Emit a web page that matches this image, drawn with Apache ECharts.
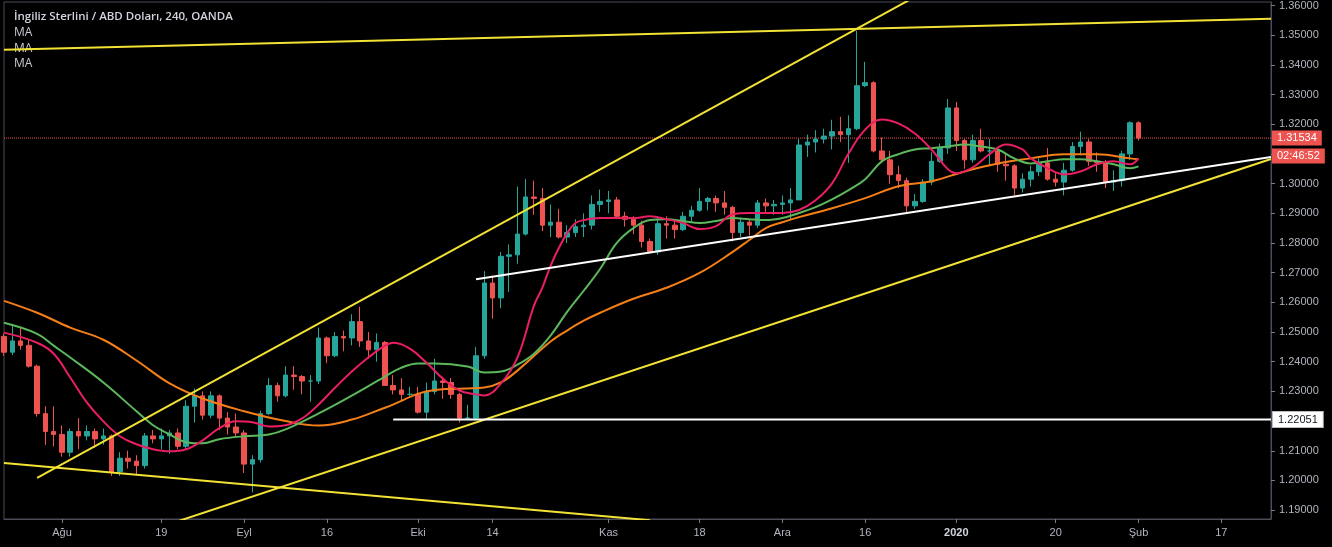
<!DOCTYPE html>
<html><head><meta charset="utf-8">
<script src="https://cdn.jsdelivr.net/npm/echarts@6/dist/echarts.min.js"></script>
<style>html,body{margin:0;padding:0;background:#000;}#c{width:1332px;height:547px;}</style>
</head><body><div id="c"></div>
<script>
// ---- categories: trading days (weekends, Dec 25 and Jan 1 skipped) ----
const categories = [];
const skipDays = ['2019-12-25', '2020-01-01'];
for (let t = Date.UTC(2019, 6, 23); t <= Date.UTC(2020, 1, 25); t += 86400000) {
  const d = new Date(t); const w = d.getUTCDay();
  if (w === 0 || w === 6) continue;
  const s = d.toISOString().slice(0, 10);
  if (skipDays.includes(s)) continue;
  categories.push(s);
}
const tickLabels = {
  '2019-08-01': 'Ağu', '2019-08-19': '19', '2019-09-02': 'Eyl', '2019-09-16': '16',
  '2019-10-01': 'Eki', '2019-10-14': '14', '2019-11-01': 'Kas', '2019-11-18': '18',
  '2019-12-02': 'Ara', '2019-12-16': '16', '2020-01-02': '2020', '2020-01-20': '20',
  '2020-02-03': 'Şub', '2020-02-17': '17'
};
const priceTicks = [1.19,1.20,1.21,1.22,1.23,1.24,1.25,1.26,1.27,1.28,1.29,1.30,1.31,1.32,1.33,1.34,1.35,1.36];

// ---- candles [open, high, low, close] ----
const ohlc = [
[1.2485,1.2495,1.2420,1.2432],[1.2432,1.2520,1.2422,1.2470],[1.2470,1.2515,1.2440,1.2455],[1.2455,1.2475,1.2380,1.2385],
[1.2385,1.2390,1.2215,1.2225],[1.2225,1.2250,1.2120,1.2165],[1.2165,1.2250,1.2115,1.2155],[1.2155,1.2185,1.2080,1.2095],
[1.2095,1.2175,1.2080,1.2165],[1.2165,1.2210,1.2105,1.2150],[1.2150,1.2185,1.2135,1.2165],[1.2165,1.2175,1.2110,1.2140],
[1.2140,1.2175,1.2120,1.2150],[1.2150,1.2155,1.2015,1.2030],[1.2030,1.2095,1.2015,1.2075],[1.2075,1.2100,1.2040,1.2065],
[1.2065,1.2085,1.2020,1.2050],[1.2050,1.2160,1.2040,1.2150],[1.2150,1.2170,1.2125,1.2140],[1.2140,1.2175,1.2105,1.2150],
[1.2150,1.2170,1.2090,1.2160],[1.2160,1.2175,1.2105,1.2115],[1.2115,1.2270,1.2105,1.2250],[1.2250,1.2310,1.2195,1.2285],
[1.2285,1.2300,1.2205,1.2220],[1.2220,1.2300,1.2210,1.2285],[1.2285,1.2290,1.2170,1.2210],[1.2210,1.2230,1.2155,1.2180],
[1.2180,1.2225,1.2145,1.2160],[1.2160,1.2170,1.2025,1.2055],[1.2055,1.2085,1.1960,1.2070],[1.2070,1.2235,1.2060,1.2225],
[1.2225,1.2345,1.2220,1.2320],[1.2320,1.2330,1.2265,1.2285],[1.2285,1.2385,1.2280,1.2355],[1.2355,1.2385,1.2305,1.2350],
[1.2350,1.2355,1.2290,1.2335],[1.2335,1.2355,1.2265,1.2335],[1.2335,1.2515,1.2325,1.2480],[1.2480,1.2485,1.2395,1.2420],
[1.2420,1.2500,1.2415,1.2485],[1.2485,1.2505,1.2435,1.2480],[1.2480,1.2560,1.2455,1.2535],[1.2535,1.2585,1.2450,1.2470],
[1.2470,1.2500,1.2410,1.2440],[1.2440,1.2495,1.2400,1.2465],[1.2465,1.2470,1.2320,1.2320],[1.2320,1.2355,1.2290,1.2305],
[1.2305,1.2345,1.2270,1.2290],[1.2290,1.2315,1.2285,1.2290],[1.2290,1.2315,1.2225,1.2230],[1.2230,1.2330,1.2205,1.2300],
[1.2300,1.2410,1.2290,1.2335],[1.2335,1.2350,1.2275,1.2330],[1.2330,1.2345,1.2275,1.2290],[1.2290,1.2295,1.2195,1.2210],
[1.2210,1.2255,1.2205,1.2210],[1.2210,1.2450,1.2205,1.2420],[1.2420,1.2705,1.2410,1.2665],[1.2665,1.2690,1.2545,1.2615],
[1.2615,1.2770,1.2580,1.2755],[1.2755,1.2795,1.2635,1.2760],[1.2760,1.2990,1.2730,1.2830],[1.2830,1.3015,1.2825,1.2955],
[1.2955,1.3010,1.2895,1.2950],[1.2950,1.2985,1.2840,1.2860],[1.2860,1.2930,1.2820,1.2870],[1.2870,1.2915,1.2815,1.2820],
[1.2820,1.2860,1.2800,1.2835],[1.2835,1.2880,1.2820,1.2855],[1.2855,1.2900,1.2820,1.2860],[1.2860,1.2960,1.2845,1.2930],
[1.2930,1.2980,1.2905,1.2940],[1.2940,1.2975,1.2900,1.2945],[1.2945,1.2955,1.2880,1.2890],[1.2890,1.2905,1.2855,1.2880],
[1.2880,1.2890,1.2830,1.2860],[1.2860,1.2875,1.2785,1.2805],[1.2805,1.2815,1.2765,1.2770],[1.2770,1.2890,1.2760,1.2865],
[1.2865,1.2890,1.2815,1.2860],[1.2860,1.2875,1.2815,1.2845],[1.2845,1.2905,1.2840,1.2890],[1.2890,1.2925,1.2870,1.2910],
[1.2910,1.2985,1.2905,1.2940],[1.2940,1.2955,1.2910,1.2950],[1.2950,1.2960,1.2905,1.2935],[1.2935,1.2975,1.2895,1.2920],
[1.2920,1.2925,1.2805,1.2835],[1.2835,1.2885,1.2820,1.2870],[1.2870,1.2880,1.2825,1.2860],[1.2860,1.2945,1.2850,1.2935],
[1.2935,1.2950,1.2905,1.2925],[1.2925,1.2945,1.2895,1.2930],[1.2930,1.2960,1.2895,1.2935],[1.2935,1.2985,1.2880,1.2945],
[1.2945,1.3150,1.2945,1.3130],[1.3130,1.3165,1.3090,1.3140],[1.3140,1.3180,1.3105,1.3150],[1.3150,1.3185,1.3135,1.3160],
[1.3160,1.3215,1.3115,1.3175],[1.3175,1.3225,1.3140,1.3165],[1.3165,1.3230,1.3070,1.3185],[1.3185,1.3515,1.3180,1.3330],
[1.3330,1.3410,1.3325,1.3340],[1.3340,1.3345,1.3105,1.3110],[1.3110,1.3155,1.3070,1.3080],[1.3080,1.3110,1.3000,1.3030],
[1.3030,1.3060,1.2985,1.3010],[1.3010,1.3020,1.2905,1.2925],[1.2925,1.2965,1.2915,1.2940],[1.2940,1.3015,1.2935,1.3005],
[1.3005,1.3105,1.2995,1.3075],[1.3075,1.3135,1.3070,1.3120],[1.3120,1.3285,1.3100,1.3255],[1.3255,1.3275,1.3110,1.3145],
[1.3145,1.3150,1.3050,1.3080],[1.3080,1.3165,1.3070,1.3145],[1.3145,1.3185,1.3105,1.3110],[1.3110,1.3150,1.3060,1.3110],
[1.3110,1.3120,1.3040,1.3065],[1.3065,1.3100,1.3010,1.3060],[1.3060,1.3065,1.2960,1.2985],[1.2985,1.3035,1.2970,1.3015],
[1.3015,1.3060,1.2990,1.3040],[1.3040,1.3085,1.3025,1.3070],[1.3070,1.3120,1.3010,1.3015],[1.3015,1.3035,1.2990,1.3005],
[1.3005,1.3070,1.2960,1.3045],[1.3045,1.3140,1.3040,1.3125],[1.3125,1.3175,1.3095,1.3140],[1.3140,1.3150,1.3060,1.3075],
[1.3075,1.3105,1.3040,1.3070],[1.3070,1.3080,1.2985,1.3005],[1.3005,1.3045,1.2975,1.3010],[1.3010,1.3110,1.2990,1.3100],
[1.3100,1.3210,1.3080,1.3205],[1.3205,1.3210,1.3145,1.31534]
];
const lastPrice = 1.31534;
const countdown = '02:46:52';
const priceLine = [[0, lastPrice], [153, lastPrice]];

// ---- moving averages: [day index, value] ----
const ma50 = [[0,1.2498],[4,1.2464],[6,1.2427],[8,1.2347],[10,1.2263],[12,1.2199],[14,1.2149],[16,1.2122],[18,1.2105],[20,1.2098],[22,1.2105],[24,1.2135],[26,1.2176],[28,1.2199],[30,1.2196],[32,1.2182],[34,1.2186],[36,1.2209],[38,1.2256],[40,1.2313],[42,1.2367],[44,1.2414],[46,1.2454],[47,1.2464],[49,1.2444],[51,1.2397],[53,1.2343],[55,1.2303],[57,1.2290],[58,1.2286],[60,1.2327],[62,1.2414],[64,1.2589],[65,1.2649],[66,1.2723],[67,1.2783],[68,1.2833],[69,1.2867],[70,1.2877],[72,1.2884],[76,1.2884],[78,1.2890],[80,1.2880],[82,1.2867],[84,1.2847],[86,1.2857],[88,1.2897],[90,1.2901],[94,1.2901],[96,1.2911],[98,1.2944],[100,1.3001],[102,1.3102],[104,1.3182],[106,1.3216],[108,1.3203],[110,1.3169],[112,1.3115],[114,1.3048],[115,1.3035],[117,1.3055],[119,1.3099],[121,1.3132],[123,1.3115],[124,1.3085],[126,1.3052],[128,1.3031],[130,1.3041],[132,1.3065],[134,1.3075],[136,1.3065],[137,1.3085]];
const ma100 = [[0,1.2531],[4,1.2494],[6,1.2454],[8,1.2414],[12,1.2330],[16,1.2233],[18,1.2186],[20,1.2155],[22,1.2129],[24,1.2125],[26,1.2139],[29,1.2149],[32,1.2155],[34,1.2172],[38,1.2226],[42,1.2286],[46,1.2350],[48,1.2380],[50,1.2394],[52,1.2394],[56,1.2384],[58,1.2364],[60,1.2367],[62,1.2390],[64,1.2427],[66,1.2488],[68,1.2568],[70,1.2639],[72,1.2713],[74,1.2800],[76,1.2850],[78,1.2877],[80,1.2880],[82,1.2874],[84,1.2867],[86,1.2874],[88,1.2884],[90,1.2880],[92,1.2877],[94,1.2884],[96,1.2901],[98,1.2921],[100,1.2947],[102,1.2978],[104,1.3015],[106,1.3075],[108,1.3099],[110,1.3115],[112,1.3119],[114,1.3125],[116,1.3132],[118,1.3125],[120,1.3115],[122,1.3085],[124,1.3068],[126,1.3075],[128,1.3082],[130,1.3082],[132,1.3075],[134,1.3065],[136,1.3052],[137,1.3058]];
const ma200 = [[0,1.2605],[4,1.2565],[8,1.2515],[12,1.2474],[16,1.2404],[20,1.2327],[24,1.2276],[29,1.2233],[34,1.2200],[38,1.2185],[42,1.2205],[46,1.2245],[52,1.2305],[58,1.2313],[60,1.2330],[62,1.2370],[66,1.2468],[68,1.2505],[70,1.2538],[72,1.2565],[76,1.2612],[80,1.2649],[84,1.2699],[88,1.2770],[90,1.2810],[92,1.2850],[94,1.2870],[96,1.2887],[100,1.2917],[104,1.2951],[108,1.2991],[112,1.3008],[116,1.3041],[120,1.3068],[124,1.3085],[128,1.3099],[132,1.3099],[136,1.3085],[137,1.3082]];

// ---- drawn trend lines: [day index, price] end points ----
const yellowTop = [[0,1.3451],[153,1.3555]];
const yellowUpper = [[4,1.2009],[110,1.3629]];
const yellowLower = [[21,1.18625],[153,1.30828]];
const yellowDown = [[0,1.20585],[78,1.18659]];
const whiteRising = [[57,1.26774],[153,1.30895]];
const whiteFlat = [[47,1.22051],[153,1.22051]];

const YMIN = 1.18701, YMAX = 1.36117;
const gray = '#b2b5be', axisGray = '#4a4d57';

const chart = echarts.init(document.getElementById('c'), null, {renderer: 'canvas'});
function trend(data, color, extra) {
  return Object.assign({
    type: 'line', data: data, symbol: 'none', silent: true, z: 5, clip: true,
    lineStyle: {color: color, width: 2}, animation: false
  }, extra || {});
}
function ma(data, color) {
  return {type: 'line', data: data, smooth: 0.4, symbol: 'none', silent: true, z: 4,
    lineStyle: {color: color, width: 2}, animation: false};
}
const boxStyle = {backgroundColor: '#ef5350', color: '#ffffff', fontSize: 11, fontFamily: 'Liberation Sans', padding: [1, 5], height: 13, lineHeight: 18};
chart.setOption({
  backgroundColor: '#000000',
  animation: false,
  grid: {left: 4, right: 61, top: 0, bottom: 28, show: true, borderColor: axisGray, borderWidth: 1},
  graphic: [
    {type: 'text', left: 14, top: 11, z: 0, style: {text: 'İngiliz Sterlini / ABD Doları, 240, OANDA', fill: '#d1d4dc', font: '600 11.5px "Open Sans"'}},
    {type: 'text', left: 14, top: 27, z: 0, style: {text: 'MA', fill: '#c8cbd2', font: '12px "Open Sans"'}},
    {type: 'text', left: 14, top: 43, z: 0, style: {text: 'MA', fill: '#c8cbd2', font: '12px "Open Sans"'}},
    {type: 'text', left: 14, top: 58, z: 0, style: {text: 'MA', fill: '#c8cbd2', font: '12px "Open Sans"'}}
  ],
  xAxis: {
    type: 'category', data: categories, boundaryGap: false,
    axisLine: {lineStyle: {color: axisGray}},
    axisTick: {show: true, length: 4, lineStyle: {color: '#787b86'}, interval: (i, v) => tickLabels[v] !== undefined},
    axisLabel: {
      interval: (i, v) => tickLabels[v] !== undefined,
      formatter: v => v === '2020-01-02' ? '{b|2020}' : (tickLabels[v] || ''),
      color: gray, fontSize: 11, fontFamily: 'Liberation Sans', margin: 8,
      rich: {b: {fontWeight: 'bold', color: '#d1d4dc', fontSize: 11, fontFamily: 'Liberation Sans'}}
    },
    splitLine: {show: false}
  },
  yAxis: {
    type: 'value', position: 'right', min: YMIN, max: YMAX,
    axisLine: {show: true, lineStyle: {color: axisGray}},
    axisTick: {show: true, length: 4, customValues: priceTicks, lineStyle: {color: '#787b86'}},
    axisLabel: {customValues: priceTicks, formatter: v => v.toFixed(5), color: gray, fontSize: 11, fontFamily: 'Liberation Sans', margin: 8},
    splitLine: {show: false}
  },
  series: [
    {
      type: 'candlestick', z: 3, barWidth: 5,
      data: ohlc.map(r => [r[0], r[3], r[2], r[1]]),
      itemStyle: {color: '#26a69a', color0: '#ef5350', borderColor: '#26a69a', borderColor0: '#ef5350', borderWidth: 1}
    },
    ma(ma200, '#f57f17'),
    ma(ma100, '#5cb85c'),
    ma(ma50, '#e91e63'),
    {
      type: 'line', data: priceLine, symbol: 'none', silent: true, z: 2, animation: false,
      lineStyle: {color: '#ef5350', type: 'dotted', width: 1},
      endLabel: {
        show: true, distance: 1, offset: [0, 9],
        formatter: '{a|' + lastPrice.toFixed(5) + '}\n{b|' + countdown + '}',
        rich: {a: boxStyle, b: boxStyle}
      }
    },
    trend(yellowTop, '#f2e234'),
    trend(yellowUpper, '#f2e234'),
    trend(yellowLower, '#f2e234'),
    trend(yellowDown, '#f2e234'),
    trend(whiteRising, '#ffffff'),
    trend(whiteFlat, '#ffffff', {
      endLabel: {show: true, formatter: whiteFlat[1][1].toFixed(5), distance: 2,
        backgroundColor: '#ffffff', color: '#131722', fontSize: 11, fontFamily: 'Liberation Sans', padding: [2, 5], borderColor: '#bbbbbb', borderWidth: 1}
    })
  ]
});
</script></body></html>
